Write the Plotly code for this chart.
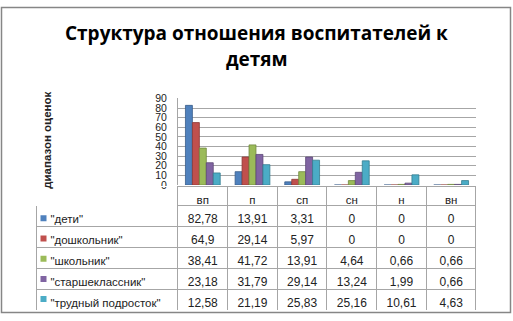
import plotly.graph_objects as go

categories = ["вп", "п", "сп", "сн", "н", "вн"]
series_names = ['"дети"', '"дошкольник"', '"школьник"', '"старшеклассник"', '"трудный подросток"']
deti = [82.78, 13.91, 3.31, 0, 0, 0]
doshkolnik = [64.9, 29.14, 5.97, 0, 0, 0]
shkolnik = [38.41, 41.72, 13.91, 4.64, 0.66, 0.66]
starsheklassnik = [23.18, 31.79, 29.14, 13.24, 1.99, 0.66]
trudny = [12.58, 21.19, 25.83, 25.16, 10.61, 4.63]
series_values = [deti, doshkolnik, shkolnik, starsheklassnik, trudny]
colors = ["#4F81BD", "#C0504D", "#9BBB59", "#8064A2", "#4BACC6"]
line_colors = ["#385D8A", "#8C3836", "#71893F", "#5C4776", "#357D91"]
y_ticks = [0, 10, 20, 30, 40, 50, 60, 70, 80, 90]

W, H = 513, 321
def px(x): return x / W
def py(y): return 1 - y / H

FONT = "Liberation Sans"
fig = go.Figure()
for name, vals, c, lc in zip(series_names, series_values, colors, line_colors):
    fig.add_trace(go.Bar(x=categories, y=vals, name=name, marker=dict(color=c, line=dict(color=lc, width=0.8)),
                         xaxis="x", yaxis="y", showlegend=False))

def fmt(v):
    return ("%g" % v).replace(".", ",")

label_col = ["\u00a0\u00a0" + n for n in series_names]
value_cols = [[fmt(series_values[s][i]) for s in range(5)] for i in range(len(categories))]

grid = "#A6A6A6"
clear = "rgba(255,255,255,0)"
fig.add_trace(go.Table(
    domain=dict(x=[px(36), px(476)], y=[py(316), py(188)]),
    columnwidth=[142] + [49.7] * 6,
    header=dict(values=[""] + categories,
                fill_color=clear,
                line=dict(color=["white"] + [grid] * 6, width=1),
                align="center", height=19,
                font=dict(family=FONT, size=11.5, color="#222")),
    cells=dict(values=[label_col] + value_cols,
               fill_color=clear,
               line=dict(color=grid, width=1),
               align=["left"] + ["center"] * 6, height=21,
               font=dict(family=FONT, size=[11.5] + [12] * 6, color="#222")),
))

# legend keys aligned to table rows
fig.add_trace(go.Scatter(x=[0.5] * len(series_names), y=series_names, mode="markers",
                         marker=dict(symbol="square", size=6, color=colors),
                         xaxis="x2", yaxis="y2", showlegend=False, hoverinfo="skip"))

fig.update_layout(
    width=W, height=H, margin=dict(l=0, r=0, t=0, b=0),
    paper_bgcolor="white", plot_bgcolor="rgba(0,0,0,0)",
    barmode="group", bargap=0.3, bargroupgap=0.0,
    xaxis=dict(domain=[px(178), px(476)], showticklabels=False, showgrid=False,
               showline=False, zeroline=False, fixedrange=True),
    yaxis=dict(domain=[py(186), py(96)], range=[0, 90], tickvals=y_ticks,
               showgrid=True, gridcolor="#A6A6A6", gridwidth=1,
               showline=True, linecolor="#A6A6A6", zeroline=False,
               ticks="", ticklabelstandoff=8,
               tickfont=dict(family=FONT, size=10.5, color="#222")),
    xaxis2=dict(domain=[px(37), px(50)], range=[0, 1], visible=False, fixedrange=True),
    yaxis2=dict(domain=[py(315), py(210)], type="category", categoryorder="array",
                categoryarray=series_names[::-1], range=[-0.5, 4.5], visible=False, fixedrange=True),
    shapes=[dict(type="rect", xref="paper", yref="paper", x0=px(1.5), x1=px(510.5), y0=py(318.5), y1=py(1.5),
                 line=dict(color="#868686", width=1.5), layer="above")],
    annotations=[
        dict(text="<b>Структура отношения воспитателей к</b>", xref="paper", yref="paper",
             x=0.5, y=py(28), xanchor="center", yanchor="middle", showarrow=False,
             font=dict(family="Open Sans", size=19, color="black")),
        dict(text="<b>детям</b>", xref="paper", yref="paper",
             x=0.5, y=py(55), xanchor="center", yanchor="middle", showarrow=False,
             font=dict(family="Open Sans", size=19, color="black")),
        dict(text="<b>диапазон оценок</b>", xref="paper", yref="paper", x=px(47), y=py(140),
             xanchor="center", yanchor="middle",
             textangle=-90, showarrow=False, font=dict(family=FONT, size=11.5, color="#222")),
    ],
)

fig.write_html("out.html", config={"displayModeBar": False},
               post_script="document.body.style.margin='0';document.body.style.overflow='hidden';")
